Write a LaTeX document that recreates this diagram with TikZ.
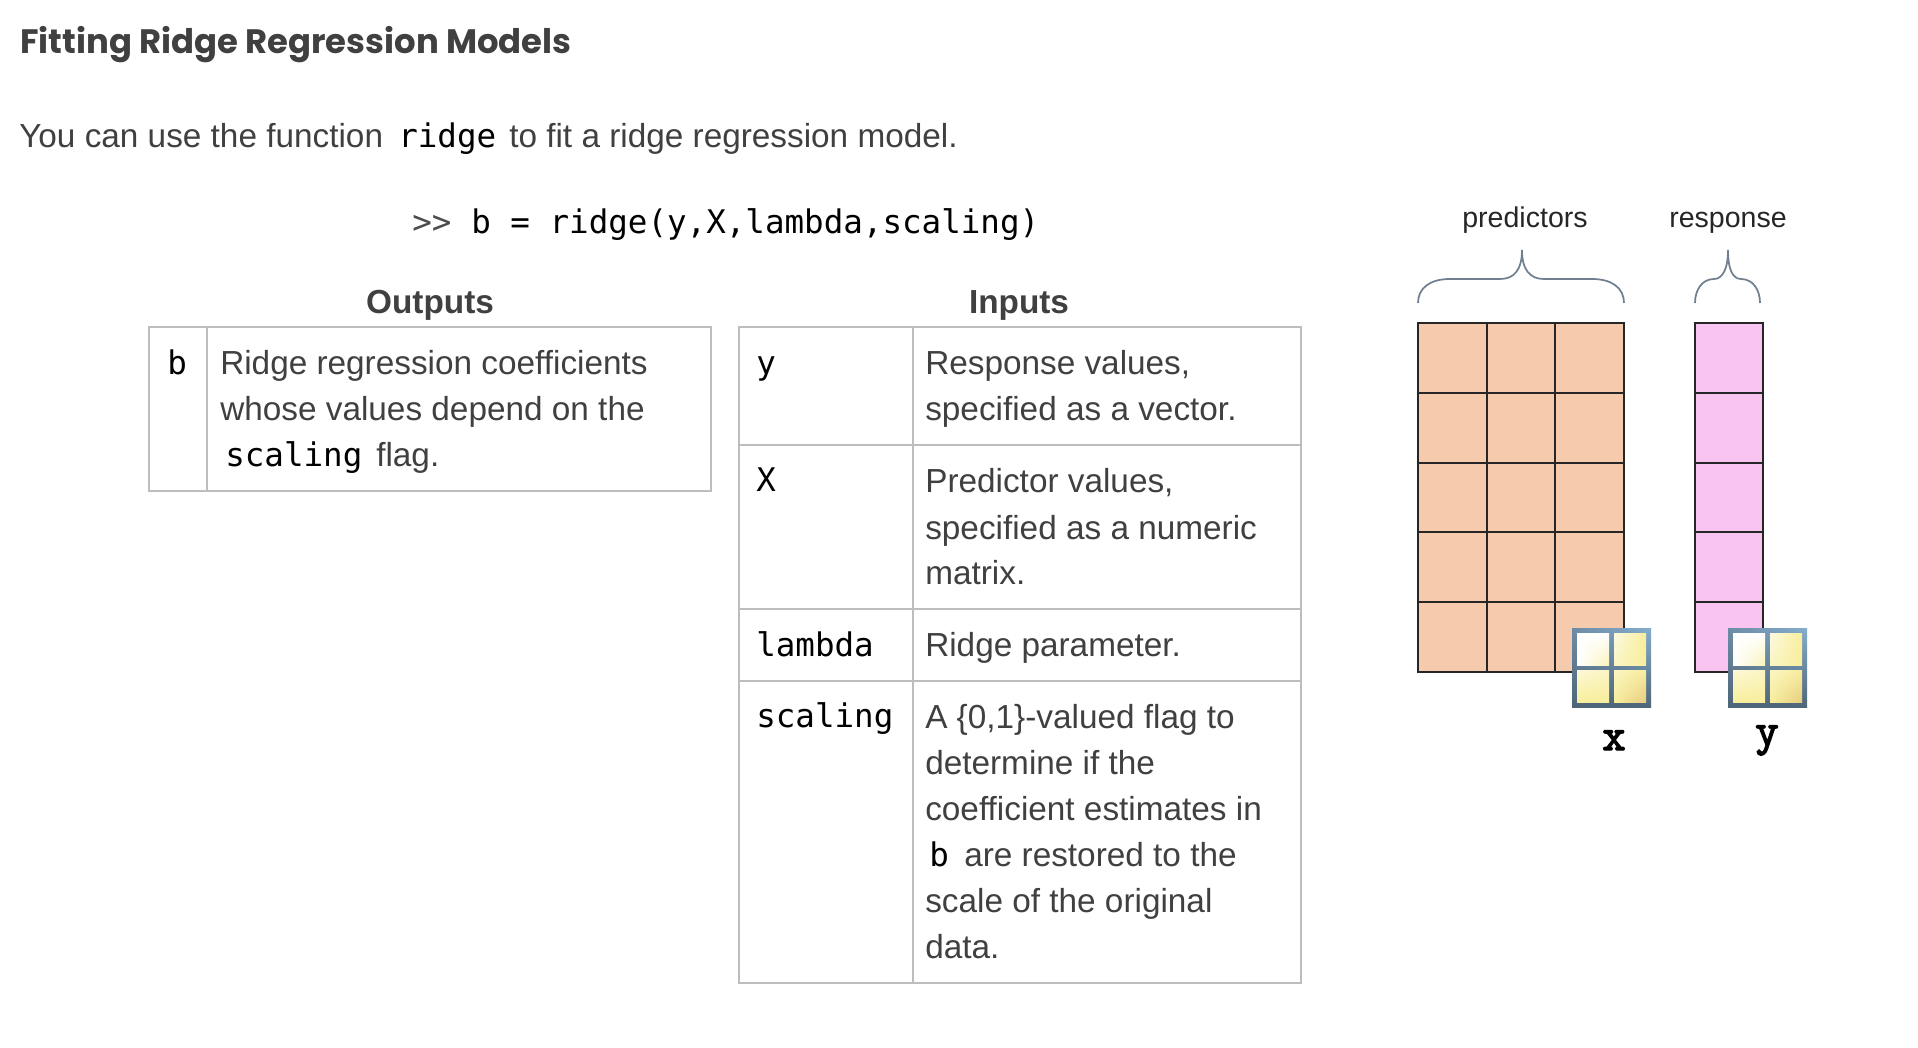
\documentclass[tikz,border=0pt]{standalone}
\usepackage{fontspec}
\setmainfont{Liberation Sans}
\newfontfamily\titlefont{Poppins}
\newfontfamily\codefont{DejaVu Sans Mono}
\newfontfamily\varfont[FakeBold=3]{Latin Modern Mono}
\usetikzlibrary{positioning,shadings}
\definecolor{bodygray}{HTML}{404040}
\definecolor{rulegray}{HTML}{BDBDBD}
\definecolor{matorange}{HTML}{F6CBAD}
\definecolor{matpink}{HTML}{F9C5F0}
\definecolor{bracegray}{HTML}{708090}
\definecolor{iconyellow}{HTML}{F8EE9C}
\definecolor{icontan}{HTML}{E6CC80}
\definecolor{framelight}{HTML}{85AECF}
\definecolor{framemid}{HTML}{6E8CA6}
\definecolor{framedark}{HTML}{4F6678}
\tikzset{
    bodytxt/.style={anchor=base west, inner sep=0, text=bodygray, font=\fontsize{25}{25}\selectfont},
    codetxt/.style={anchor=base west, inner sep=0, text=black, font=\fontsize{24.4}{25}\selectfont\codefont},
    headtxt/.style={anchor=base, inner sep=0, text=bodygray, font=\fontsize{25}{25}\selectfont\bfseries},
    smalltxt/.style={anchor=base, inner sep=0, text=black!85, font=\fontsize{21.4}{22}\selectfont},
    vartxt/.style={anchor=base, inner sep=0, text=black, font=\fontsize{34}{34}\selectfont\varfont},
    tablerule/.style={draw=rulegray, line width=1.5pt},
    gridrule/.style={draw=black!85, line width=2.1pt},
    bracerule/.style={draw=bracegray, line width=1.3pt}
}
\newcommand{\gridicon}[2]{% left and top of the icon
    \begin{scope}[shift={(#1,#2)}]
        \shade[upper left=framemid, upper right=framelight, lower left=framedark, lower right=framedark] (0,0) rectangle (79,79);
        \shade[upper left=white, upper right=white, lower left=white, lower right=iconyellow!70] (5,5) rectangle (37,37);
        \shade[upper left=iconyellow!30, upper right=iconyellow, lower left=iconyellow!60, lower right=iconyellow] (42,5) rectangle (74,37);
        \shade[upper left=iconyellow!40, upper right=iconyellow!60, lower left=iconyellow, lower right=iconyellow] (5,42) rectangle (37,74);
        \shade[upper left=iconyellow!60, upper right=iconyellow, lower left=iconyellow, lower right=icontan] (42,42) rectangle (74,74);
    \end{scope}
}
\begin{document}
\begin{tikzpicture}[x=0.75pt, y=-0.75pt]
    \useasboundingbox (0,0) rectangle (1918,1048);
    \fill[white] (0,0) rectangle (1918,1048);

    % heading and intro
    \node[anchor=base west, inner sep=0, text=bodygray, font=\fontsize{25.4}{26}\selectfont\titlefont\bfseries] (title) at (20,54) {Fitting Ridge Regression Models};
    \node[bodytxt] (intro) at (19,148) {You can use the function};
    \node[codetxt] (introcode) at (398,148) {ridge};
    \node[bodytxt] (introend) at (509,148) {to fit a ridge regression model.};
    \node[codetxt, text=black!70] (prompt) at (412,234) {>>};
    \node[codetxt] (call) at (471,234) {b = ridge(y,X,lambda,scaling)};

    % outputs table
    \node[headtxt] (outputs) at (430,314) {Outputs};
    \draw[tablerule] (149,327) rectangle (711,491);
    \draw[tablerule] (207,327) -- (207,491);
    \node[codetxt] (outb) at (167,375) {b};
    \node[bodytxt] (outa) at (220,375) {Ridge regression coefficients};
    \node[bodytxt] (outc) at (220,421) {whose values depend on the};
    \node[codetxt] (outd) at (225,467) {scaling};
    \node[bodytxt] (oute) at (376,467) {flag.};

    % inputs table
    \node[headtxt] (inputs) at (1019,314) {Inputs};
    \draw[tablerule] (739,327) rectangle (1301,983);
    \draw[tablerule] (913,327) -- (913,983);
    \draw[tablerule] (739,445) -- (1301,445);
    \draw[tablerule] (739,609) -- (1301,609);
    \draw[tablerule] (739,681) -- (1301,681);

    \node[codetxt] (iny) at (756,375) {y};
    \node[bodytxt] (inya) at (925,375) {Response values,};
    \node[bodytxt] (inyb) at (925,421) {specified as a vector.};

    \node[codetxt] (inx) at (756,492) {X};
    \node[bodytxt] (inxa) at (925,493) {Predictor values,};
    \node[bodytxt] (inxb) at (925,539) {specified as a numeric};
    \node[bodytxt] (inxc) at (925,584) {matrix.};

    \node[codetxt] (inl) at (756,656) {lambda};
    \node[bodytxt] (inla) at (925,656) {Ridge parameter.};

    \node[codetxt] (ins) at (756,727) {scaling};
    \node[bodytxt] (insa) at (925,728) {A \{0,1\}-valued flag to};
    \node[bodytxt] (insb) at (925,774) {determine if the};
    \node[bodytxt] (insc) at (925,820) {coefficient estimates in};
    \node[codetxt] (insd) at (929,866) {b};
    \node[bodytxt] (inse) at (964,866) {are restored to the};
    \node[bodytxt] (insf) at (925,912) {scale of the original};
    \node[bodytxt] (insg) at (925,958) {data.};

    % predictors matrix
    \node[smalltxt] (predictors) at (1525,228) {predictors};
    \draw[bracerule] (1418,303) .. controls (1418,288) and (1430,279) .. (1450,279) -- (1500,279) .. controls (1514,279) and (1522,270) .. (1522,250) .. controls (1522,270) and (1530,279) .. (1544,279) -- (1592,279) .. controls (1612,279) and (1624,288) .. (1624,303);
    \fill[matorange] (1418,323) rectangle (1624,672);
    \draw[gridrule] (1418,323) rectangle (1624,672);
    \draw[gridrule] (1487,323) -- (1487,672);
    \draw[gridrule] (1555,323) -- (1555,672);
    \draw[gridrule] (1418,393) -- (1624,393);
    \draw[gridrule] (1418,463) -- (1624,463);
    \draw[gridrule] (1418,532) -- (1624,532);
    \draw[gridrule] (1418,602) -- (1624,602);
    \gridicon{1572}{628}
    \node[vartxt] (varx) at (1614,750) {x};

    % response vector
    \node[smalltxt] (response) at (1728,228) {response};
    \draw[bracerule] (1695,303) .. controls (1695,290) and (1702,279) .. (1714,279) .. controls (1722,279) and (1728,270) .. (1728,250) .. controls (1728,270) and (1733,279) .. (1741,279) .. controls (1753,279) and (1760,290) .. (1760,303);
    \fill[matpink] (1695,323) rectangle (1763,672);
    \draw[gridrule] (1695,323) rectangle (1763,672);
    \draw[gridrule] (1695,393) -- (1763,393);
    \draw[gridrule] (1695,463) -- (1763,463);
    \draw[gridrule] (1695,532) -- (1763,532);
    \draw[gridrule] (1695,602) -- (1763,602);
    \gridicon{1728}{628}
    \node[vartxt] (vary) at (1767,745) {y};
\end{tikzpicture}
\end{document}
